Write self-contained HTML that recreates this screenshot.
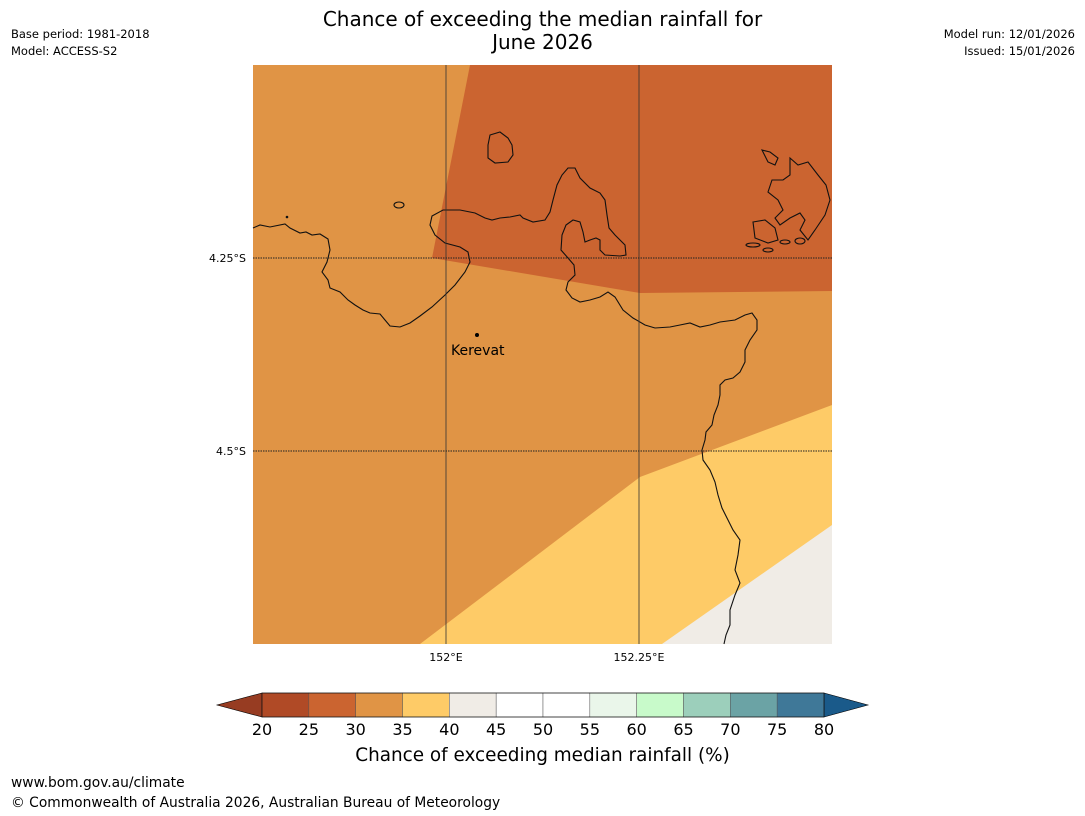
<!DOCTYPE html>
<html><head><meta charset="utf-8"><style>
body{margin:0;background:#fff;font-family:"Liberation Sans","DejaVu Sans",sans-serif;}
#w{position:relative;width:1085px;height:816px;overflow:hidden;background:#fff}
.t{position:absolute;white-space:nowrap;color:#000}
</style></head><body>
<div id="w">
<div class="t" style="left:0;width:1085px;top:8px;text-align:center;font-size:20px;line-height:23px;font-family:'DejaVu Sans',sans-serif">Chance of exceeding the median rainfall for<br>June 2026</div>
<div class="t" style="left:11px;top:27px;font-size:11.5px;font-family:'DejaVu Sans',sans-serif">Base period: 1981-2018</div>
<div class="t" style="left:11px;top:44px;font-size:11.5px;font-family:'DejaVu Sans',sans-serif">Model: ACCESS-S2</div>
<div class="t" style="right:10px;top:27px;font-size:11.5px;font-family:'DejaVu Sans',sans-serif">Model run: 12/01/2026</div>
<div class="t" style="right:10px;top:44px;font-size:11.5px;font-family:'DejaVu Sans',sans-serif">Issued: 15/01/2026</div>
<svg width="1085" height="816" style="position:absolute;left:0;top:0">
<g>
<rect x="253" y="65" width="579" height="579" fill="#E09445"/>
<polygon points="470,65 832,65 832,291 640,293 432,258" fill="#CB6430"/>
<polygon points="420,644 640,477 832,405 832,644" fill="#FECB67"/>
<polygon points="662,644 832,525 832,644" fill="#F0ECE6"/>
<g fill="none" stroke="#111" stroke-width="1.1">
<polyline points="253,228 260,225 270,227 285,224 290,228 300,233 306,232 312,235 320,234 328,239 330,250 327,262 322,272 328,280 330,288 340,292 348,300 355,305 363,310 370,313 380,314 385,320 390,326 400,327 410,323 420,316 432,307 445,295 455,285 465,272 470,262 468,252 460,247 445,243 435,235 430,225 432,216 443,210 460,210 475,213 485,218 492,220 500,218 510,217 520,215 523,218 533,222 545,220 550,212 553,200 557,185 562,175 568,168 575,168 580,178 590,188 600,193 605,200 607,215 609,228 615,235 620,240 625,245 626,255 620,256 605,255 600,250 600,240 596,238 590,240 585,242 583,232 580,222 573,220 566,225 562,235 561,250 568,258 574,265 575,275 568,282 566,290 572,298 580,302 590,300 600,297 608,292 615,297 623,310 633,318 645,325 655,328 670,327 680,325 690,323 700,327 710,325 720,322 735,320 745,315 752,313 757,320 757,330 750,340 745,350 745,362 740,372 733,378 725,380 720,385 720,395 718,405 714,415 712,425 706,432 705,440 702,450 703,460 710,470 715,482 718,495 722,508 728,520 733,530 740,540 738,555 735,570 740,583 735,595 730,610 730,625 726,635 724,644"/>
<polygon points="490,135 500,132 508,138 512,145 513,155 508,162 495,163 488,158 488,145"/>
<ellipse cx="399" cy="205" rx="5" ry="3"/>
<polygon points="762,150 770,152 778,158 775,165 768,162"/>
<polygon points="790,158 798,165 808,162 818,175 826,185 830,200 825,215 815,230 808,240 800,230 805,220 800,213 790,218 780,225 775,218 783,210 778,200 768,192 772,180 783,180 790,175"/>
<polygon points="753,222 765,220 775,228 778,240 768,243 755,238"/>
<ellipse cx="753" cy="245" rx="7" ry="2"/><ellipse cx="768" cy="250" rx="5" ry="2"/><ellipse cx="785" cy="242" rx="5" ry="2"/><ellipse cx="800" cy="241" rx="5" ry="3"/>
</g>
<circle cx="287" cy="217" r="1.3" fill="#111"/>
<line x1="446" y1="65" x2="446" y2="644" stroke="#333" stroke-width="0.8"/>
<line x1="639" y1="65" x2="639" y2="644" stroke="#333" stroke-width="0.8"/>
<line x1="253" y1="258" x2="832" y2="258" stroke="#222" stroke-width="1" stroke-dasharray="1.5,1"/>
<line x1="253" y1="451" x2="832" y2="451" stroke="#222" stroke-width="1" stroke-dasharray="1.5,1"/>
<circle cx="477" cy="335" r="2" fill="#000"/>
<text x="451" y="355" font-size="14" font-family="DejaVu Sans, sans-serif">Kerevat</text>
<text x="246" y="262" font-size="11" text-anchor="end" font-family="DejaVu Sans, sans-serif">4.25°S</text>
<text x="246" y="455" font-size="11" text-anchor="end" font-family="DejaVu Sans, sans-serif">4.5°S</text>
<text x="446" y="661" font-size="11" text-anchor="middle" font-family="DejaVu Sans, sans-serif">152°E</text>
<text x="639" y="661" font-size="11" text-anchor="middle" font-family="DejaVu Sans, sans-serif">152.25°E</text>
</g>
<g id="cb"></g>
</svg>
<div class="t" style="left:0;width:1085px;text-align:center;top:745px;font-size:18.4px;font-family:'DejaVu Sans',sans-serif">Chance of exceeding median rainfall (%)</div>
<div class="t" style="left:11px;top:775px;font-size:13.8px;font-family:'DejaVu Sans',sans-serif">www.bom.gov.au/climate</div>
<div class="t" style="left:11px;top:795px;font-size:13.8px;font-family:'DejaVu Sans',sans-serif">© Commonwealth of Australia 2026, Australian Bureau of Meteorology</div>
</div>
<script>
const levels=[20,25,30,35,40,45,50,55,60,65,70,75,80];
const colors=["#B04A26","#CB6430","#E09445","#FECB67","#F0ECE6","#FFFFFF","#FFFFFF","#EAF6EA","#C8FACA","#9CCFBB","#6BA3A5","#3F7898"];
const underColor="#973C22", overColor="#1A5A8A";
const NS="http://www.w3.org/2000/svg";
const g=document.getElementById('cb');
const x0=262,x1=824,y0=693,y1=717;
const sx=v=>x0+(v-levels[0])/(levels[levels.length-1]-levels[0])*(x1-x0);
function mk(tag,attrs){const e=document.createElementNS(NS,tag);for(const k in attrs)e.setAttribute(k,attrs[k]);g.appendChild(e);return e;}
const lt=mk('polygon',{points:`${x0},${y0} ${x0},${y1} 217,${(y0+y1)/2}`,fill:underColor,stroke:'#000','stroke-width':0.6});


const rt=mk('polygon',{points:`${x1},${y0} ${x1},${y1} 868,${(y0+y1)/2}`,fill:overColor,stroke:'#000','stroke-width':0.6});


for(let i=0;i<colors.length;i++){
 const r=mk('rect',{x:sx(levels[i]),y:y0,width:sx(levels[i+1])-sx(levels[i]),height:y1-y0,fill:colors[i],stroke:'#555','stroke-width':0.5});
 
 
}
mk('rect',{x:x0,y:y0,width:x1-x0,height:y1-y0,fill:'none',stroke:'#000','stroke-width':0.6});
levels.forEach(v=>{
 const t=mk('text',{x:sx(v),y:735,'font-size':16,'text-anchor':'middle','font-family':'DejaVu Sans, sans-serif'});
 t.textContent=v;
 
 
});
</script>
</body></html>
